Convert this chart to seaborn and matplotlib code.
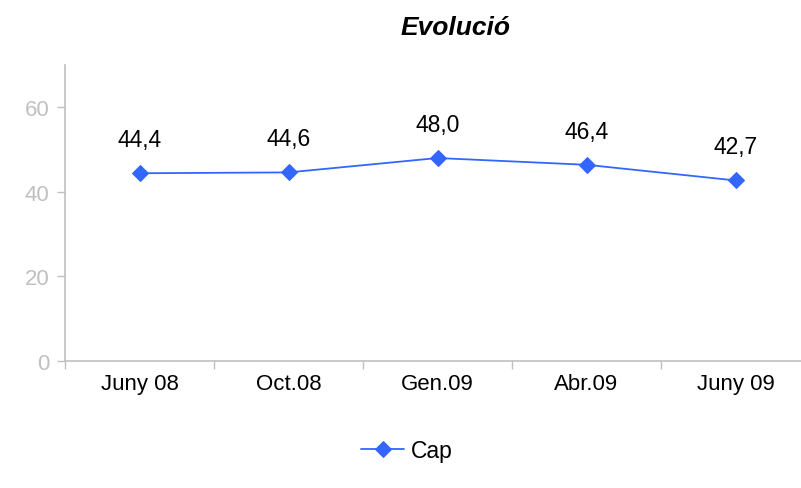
import matplotlib
matplotlib.use("Agg")
import matplotlib.pyplot as plt
import seaborn as sns
import pandas as pd
import numpy as np

categories = ["Juny 08", "Oct.08", "Gen.09", "Abr.09", "Juny 09"]
values = [44.4, 44.6, 48.0, 46.4, 42.7]
value_labels = ["44,4", "44,6", "48,0", "46,4", "42,7"]
yticks = [0, 20, 40, 60]
series_name = "Cap"
title = "Evolució"

sns.set_theme(style="white")
plt.rcParams['font.family'] = ['Liberation Sans', 'DejaVu Sans']
plt.rcParams['text.color'] = 'black'

df = pd.DataFrame({"x": np.arange(len(categories)), "y": values, "s": series_name})

fig = plt.figure(figsize=(8.01, 4.89), dpi=100)
ax = fig.add_axes([65/801, 1-362/489, 1-65/801, (362-66)/489])

color = "#3366FF"
sns.lineplot(data=df, x="x", y="y", ax=ax, color=color, marker="D", markersize=8,
             markeredgecolor=color, linewidth=1.3, label=series_name, legend=False)

for xi, yi, lab in zip(df["x"], values, value_labels):
    ax.annotate(lab, (xi, yi), xytext=(0, 16), textcoords="offset points",
                ha="center", va="bottom", fontsize=16.5, color="black")

ax.set_xlim(-0.5, -0.5 + 736/149)
ax.set_ylim(0, 70)
ax.set_yticks(yticks)
ax.set_yticklabels([str(t) for t in yticks], fontsize=16, color="#c0c0c0")
ax.set_xticks(np.arange(len(categories)))
ax.set_xticklabels(categories, fontsize=16, color="black")
ax.set_xticks(np.arange(len(categories)) - 0.5, minor=True)
ax.tick_params(axis="x", which="major", length=0, pad=9)
ax.tick_params(axis="x", which="minor", length=6, color="#c0c0c0", width=1, direction="out", bottom=True)
ax.tick_params(axis="y", length=6, color="#c0c0c0", width=1, direction="out", left=True, pad=5)
ax.set_xlabel("")
ax.set_ylabel("")
for s in ["top", "right"]:
    ax.spines[s].set_visible(False)
for s in ["left", "bottom"]:
    ax.spines[s].set_color("#c0c0c0")
    ax.spines[s].set_linewidth(1.2)
ax.grid(False)

fig.text(456/801, 1-28/489, title, ha="center", va="center", fontsize=19,
         fontweight="bold", fontstyle="italic", color="black")

handles, labels = ax.get_legend_handles_labels()
leg = fig.legend(handles, labels, loc="center", bbox_to_anchor=(407/801, 1-452/489),
                 frameon=False, fontsize=16.5, handlelength=1.9, handletextpad=0.3)
for t in leg.get_texts():
    t.set_color("black")

fig.savefig("out.png", dpi=100)
